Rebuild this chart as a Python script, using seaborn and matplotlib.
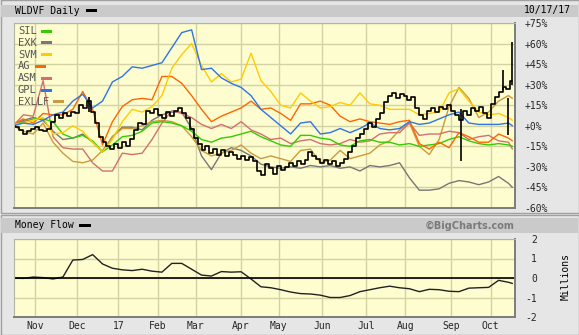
import numpy as np
import pandas as pd
import matplotlib
matplotlib.use('Agg')
import matplotlib.pyplot as plt
import seaborn as sns
from matplotlib.patches import Rectangle

# ---------------- data ----------------
tickers = ['SIL', 'EXK', 'SVM', 'AG', 'ASM', 'GPL', 'EXLLF']
colors = ['#33cc00', '#777777', '#ffcc00', '#ff6600', '#d46f6f', '#2f74e8', '#cc9a3c']

# weekly samples (every 5 trading days, last = final day), % change
sil = [0, 3, 5, 5, 3, -6, -9, -7, -11, -19, -14, -8, -7,
       -4, 2, 3, 2, 0, -4, -10, -12, -9, -8, -6, -4, -8,
       -11, -14, -15, -7, -7, -9, -10, -14, -15, -11, -10, -12, -12,
       -14, -13, -15, -14, -13, -10, -8, -11, -13, -14, -13, -14, -15]
exk = [0, 4, 6, 4, -4, -10, -9, -6, -12, -19, -8, -1, -1,
       -3, 4, 8, 10, 10, -2, -22, -32, -20, -16, -18, -22, -28,
       -30, -31, -30, -31, -29, -30, -29, -31, -30, -33, -29, -30, -29,
       -27, -38, -47, -47, -46, -42, -40, -41, -43, -41, -37, -42, -45]
svm = [1, 2, 4, 6, -6, -5, 0, -4, -12, -19, -10, 3, 12,
       10, 14, 22, 42, 52, 60, 44, 32, 38, 32, 34, 53, 33,
       25, 15, 13, 24, 18, 13, 14, 17, 15, 24, 16, 15, 12,
       12, 12, 8, 9, 10, 24, 27, 18, 10, 8, 9, 6, 4]
ag = [1, 5, 2, 9, 8, 8, 12, 25, 12, -14, 3, 14, 19,
      20, 19, 36, 36, 31, 22, 12, 3, 7, 10, 13, 18, 12,
      13, 9, 4, 16, 16, 18, 15, 7, 3, 5, 3, 2, 1,
      3, 4, -13, -17, -12, -16, -5, -8, -12, -12, -6, -9, -11]
asm = [0, 8, 7, 33, -8, -16, -17, -17, -27, -33, -33, -20, -21,
       -20, -10, 2, 11, 9, 6, 1, -2, 1, -2, 3, -3, -6,
       -10, -9, -13, -11, -10, -13, -14, -13, -10, -12, -11, -6, -5,
       -5, 2, -7, -6, -6, -4, -5, -10, -8, -7, -11, -12, -17]
gpl = [0, 2, 1, 4, 8, 10, 18, 23, 13, 18, 32, 36, 43,
       42, 44, 46, 57, 68, 70, 41, 42, 35, 31, 28, 22, 12,
       6, 0, -6, 2, 3, -6, -5, -2, -5, -2, 2, -2, -3,
       -2, 3, 1, 2, 5, 8, 10, 2, 1, 1, 1, 2, 0]
exllf = [0, -4, -6, 2, -12, -20, -26, -27, -25, -18, -8, -2, -2,
         0, 3, 4, 3, 0, -8, -18, -22, -20, -18, -14, -20, -24,
         -22, -24, -26, -18, -17, -27, -25, -18, -24, -22, -20, -14, -11,
         -3, 2, -15, -21, -10, 14, 28, 20, 6, 10, 18, 22, 20]

# WLDVF close, every 2 trading days
wldvf_close = [0, -1, -3, -6, -4, -2, -1, -3, -4, -2,
               3, 8, 6, 9, 7, 10, 9, 15, 13, 18,
               10, 2, -8, -12, -15, -17, -13, -16, -12, -15,
               -10, -3, 2, 1, 11, 9, 12, 8, 6, 10,
               7, 11, 13, 9, 6, -2, -9, -13, -18, -15,
               -20, -17, -21, -18, -22, -19, -21, -24, -22, -25,
               -23, -26, -33, -36, -28, -31, -35, -29, -32, -30,
               -27, -29, -26, -28, -25, -19, -22, -24, -27, -25,
               -28, -26, -29, -27, -24, -19, -15, -9, -6, -2,
               2, -1, 5, 9, 17, 22, 24, 20, 23, 22,
               19, 21, 13, 8, 5, 11, 13, 10, 14, 12,
               15, 11, 8, 4, 11, 8, 13, 11, 14, 9,
               6, 16, 21, 25, 28, 27, 33]
# long daily bars (trading-day number, low, high)
wick_day = [38, 226, 247, 250, 252]
wick_low = [10, -26, 26, -7, 30]
wick_high = [21, 12, 41, 20, 61]

money_flow = [0.0, -0.02, 0.05, 0.02, -0.05, 0.05, 0.92, 0.95, 1.20, 0.72, 0.50, 0.42, 0.38,
              0.45, 0.35, 0.30, 0.75, 0.75, 0.45, 0.15, 0.10, 0.33, 0.30, 0.32, -0.05, -0.45,
              -0.50, -0.60, -0.72, -0.80, -0.82, -0.88, -1.00, -1.00, -0.90, -0.70, -0.60, -0.50, -0.42,
              -0.50, -0.55, -0.70, -0.58, -0.60, -0.68, -0.70, -0.52, -0.50, -0.48, -0.12, -0.22, -0.28]

month_labels = ['Nov', 'Dec', '17', 'Feb', 'Mar', 'Apr', 'May', 'Jun', 'Jul', 'Aug', 'Sep', 'Oct']
pct_ticks = [-60, -45, -30, -15, 0, 15, 30, 45, 60, 75]
mf_ticks = [-2, -1, 0, 1, 2]

# trading calendar
holidays = pd.to_datetime(['2016-11-24', '2016-12-26', '2017-01-02', '2017-01-16', '2017-02-20',
                           '2017-04-14', '2017-05-29', '2017-07-04', '2017-09-04'])
days = pd.bdate_range('2016-10-17', '2017-10-17')
days = days[~days.isin(holidays)]
n = len(days)
weekly_idx = list(range(0, n - 2, 5)) + [n - 1]
close_idx = list(range(0, n, 2))
month_idx = [i for i in range(1, n) if days[i].month != days[i - 1].month]

series = dict(zip(tickers, [sil, exk, svm, ag, asm, gpl, exllf]))
df = pd.concat([pd.DataFrame({'day': weekly_idx, 'pct': series[t], 'ticker': t}) for t in tickers])
black = pd.DataFrame({'day': close_idx, 'pct': wldvf_close})
mf = pd.DataFrame({'day': weekly_idx, 'mf': money_flow})

# ---------------- figure ----------------
sns.set_style('white')
plt.rcParams['font.family'] = ['DejaVu Sans Mono']
W, H = 579, 335
fig = plt.figure(figsize=(W / 100, H / 100), dpi=100)
fig.patch.set_facecolor('#e6e6e6')


def fx(p):
    return p / W


def fy(p):
    return 1 - p / H


def frect(x0, y0, x1, y1, **kw):
    fig.patches.append(Rectangle((fx(x0), fy(y1)), fx(x1) - fx(x0), fy(y0) - fy(y1),
                                 transform=fig.transFigure, **kw))


# panel frames / header bars
frect(0.5, 0.5, 578.5, 213, facecolor='none', edgecolor='#a0a0a0', lw=1)
frect(0.5, 215, 578.5, 334.5, facecolor='none', edgecolor='#a0a0a0', lw=1)
frect(1, 5, 578, 17, facecolor='#cacaca', edgecolor='none')
frect(1, 218, 578, 233, facecolor='#cacaca', edgecolor='none')
frect(86, 8.5, 97, 11.5, facecolor='black', edgecolor='none')
frect(79, 224, 91, 227, facecolor='black', edgecolor='none')

fig.text(fx(15), fy(11), 'WLDVF Daily', fontsize=7, va='center', ha='left', color='black')
fig.text(fx(571), fy(10.5), '10/17/17', fontsize=7, va='center', ha='right', color='black')
fig.text(fx(15), fy(225.5), 'Money Flow', fontsize=7, va='center', ha='left', color='black')
fig.text(fx(515), fy(225.5), '\u00a9BigCharts.com', fontsize=7, va='center', ha='right',
         color='#7a7a7a', fontweight='bold', family='DejaVu Sans')
fig.text(fx(566), fy(276), 'Millions', fontsize=7, va='center', ha='center', rotation=90, color='black')

ax = fig.add_axes([fx(14), fy(208), (515 - 14) / W, (208 - 23) / H])
ax2 = fig.add_axes([fx(14), fy(317), (515 - 14) / W, (317 - 239) / H])

grid_c = '#d2d2a2'
bg_c = '#fdfdcf'
for a in (ax, ax2):
    a.set_facecolor(bg_c)
    a.set_xlim(0.3, n + 0.3)
    a.set_xticks(month_idx)
    a.grid(True, color=grid_c, lw=1.0)
    a.set_axisbelow(True)
    a.tick_params(length=0)
    for s in ('top', 'left'):
        a.spines[s].set_color('#b4b4a0')
        a.spines[s].set_linewidth(0.8)
    for s in ('bottom', 'right'):
        a.spines[s].set_color('#7c7c7c')
        a.spines[s].set_linewidth(1.4)

# ---- top panel ----
draw_order = ['EXK', 'EXLLF', 'ASM', 'SIL', 'AG', 'SVM', 'GPL']
pal = dict(zip(tickers, colors))
sns.lineplot(data=df, x='day', y='pct', hue='ticker', hue_order=draw_order, palette=pal,
             legend=False, lw=1.0, estimator=None, ax=ax)
sns.lineplot(data=black, x='day', y='pct', color='black', lw=1.2, drawstyle='steps-mid',
             estimator=None, ax=ax)
ax.vlines(wick_day, wick_low, wick_high, color='black', lw=1.2)
ax.set_ylim(-60, 75)
ax.set_yticks(pct_ticks)
ax.set_yticklabels([('%+d%%' % v) for v in pct_ticks])
ax.yaxis.tick_right()
ax.tick_params(axis='y', labelsize=7, pad=7)
ax.set_xticklabels([])
ax.set_xlabel('')
ax.set_ylabel('')

# legend inside
for i, (t, c) in enumerate(zip(tickers, colors)):
    ypx = 31 + 11.8 * i
    fig.text(fx(18), fy(ypx), t, fontsize=7.5, color='#555555', va='center', ha='left')
    x0 = 18 + 6 * len(t) + 5
    frect(x0, ypx - 1.5, x0 + 11, ypx + 1.5, facecolor=c, edgecolor='none', zorder=5)

# ---- money flow panel ----
sns.lineplot(data=mf, x='day', y='mf', color='#222222', lw=1.0, estimator=None, ax=ax2)
ax2.axhline(0, color='black', lw=1.2)
ax2.set_ylim(-2, 2)
ax2.set_yticks(mf_ticks)
ax2.set_yticklabels([str(v) for v in mf_ticks])
ax2.yaxis.tick_right()
ax2.tick_params(axis='y', labelsize=7, pad=16)
for lab in ax2.get_yticklabels():
    lab.set_horizontalalignment('right')
ax2.set_xticklabels(month_labels)
ax2.tick_params(axis='x', labelsize=7, pad=3)
ax2.set_xlabel('')
ax2.set_ylabel('')

fig.savefig('out.png', dpi=100, facecolor=fig.get_facecolor())
